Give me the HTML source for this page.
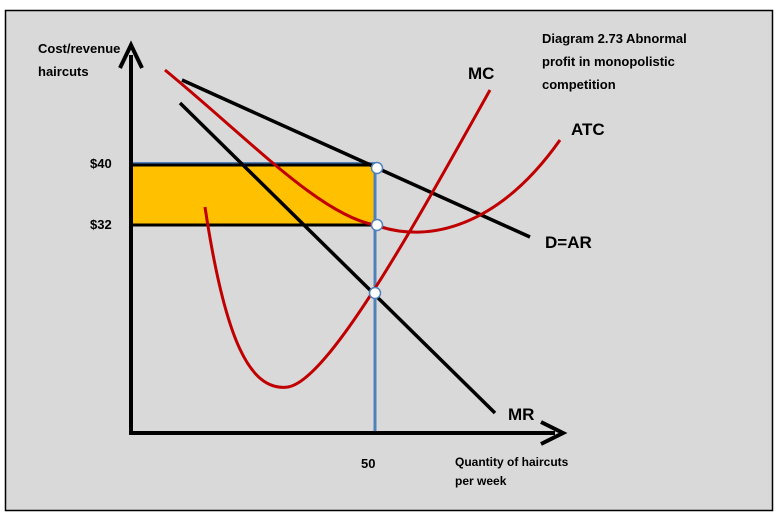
<!DOCTYPE html>
<html><head><style>
body{margin:0;background:#fff;}
svg{display:block;font-family:"Liberation Sans",sans-serif;font-weight:bold;}
</style></head><body>
<svg width="778" height="517" viewBox="0 0 778 517">
<rect x="5.5" y="10.5" width="767" height="500" fill="#d9d9d9" stroke="#000" stroke-width="1.5"/>
<rect x="133" y="165" width="242" height="60" fill="#ffc000"/>
<line x1="131" y1="163" x2="375" y2="163" stroke="#4f81bd" stroke-width="2"/>
<line x1="133" y1="165" x2="377" y2="165" stroke="#000" stroke-width="3"/>
<line x1="133" y1="225" x2="377" y2="225" stroke="#000" stroke-width="3"/>
<line x1="375" y1="165" x2="375" y2="225" stroke="#000" stroke-width="3"/>
<line x1="375" y1="167" x2="375" y2="433" stroke="#4f81bd" stroke-width="3"/>
<line x1="182" y1="80" x2="530" y2="237" stroke="#000" stroke-width="3.5"/>
<line x1="180" y1="103" x2="495" y2="413" stroke="#000" stroke-width="3.5"/>
<path d="M205,207 C225,340 250,392 288,387 C330,380 420,215 490,90" fill="none" stroke="#c00000" stroke-width="3"/>
<path d="M165,70 C250,140 320,215 375,225 C430,245 500,225 560,140" fill="none" stroke="#c00000" stroke-width="3"/>
<line x1="131" y1="433" x2="131" y2="55" stroke="#000" stroke-width="4"/>
<path d="M120,68 L131,45 L142,68" fill="none" stroke="#000" stroke-width="4"/>
<line x1="129" y1="433" x2="555" y2="433" stroke="#000" stroke-width="4"/>
<path d="M541,422 L563,433 L541,444" fill="none" stroke="#000" stroke-width="4"/>
<g fill="#fff" stroke="#4f81bd" stroke-width="1.5">
<circle cx="377" cy="168" r="5.5"/><circle cx="377" cy="225" r="5.5"/><circle cx="375" cy="293" r="5.5"/>
</g>
<g font-size="13">
<text x="38" y="53">Cost/revenue</text>
<text x="38" y="76">haircuts</text>
<text x="542" y="43">Diagram 2.73 Abnormal</text>
<text x="542" y="66">profit in monopolistic</text>
<text x="542" y="89">competition</text>
<text x="90" y="168">$40</text>
<text x="90" y="229">$32</text>
<text x="361" y="468">50</text>
<text x="455" y="466" font-size="12">Quantity of haircuts</text>
<text x="455" y="485" font-size="12">per week</text>
</g>
<g font-size="17">
<text x="468" y="79">MC</text>
<text x="571" y="135">ATC</text>
<text x="545" y="248">D=AR</text>
<text x="508" y="420">MR</text>
</g>
</svg>
</body></html>
